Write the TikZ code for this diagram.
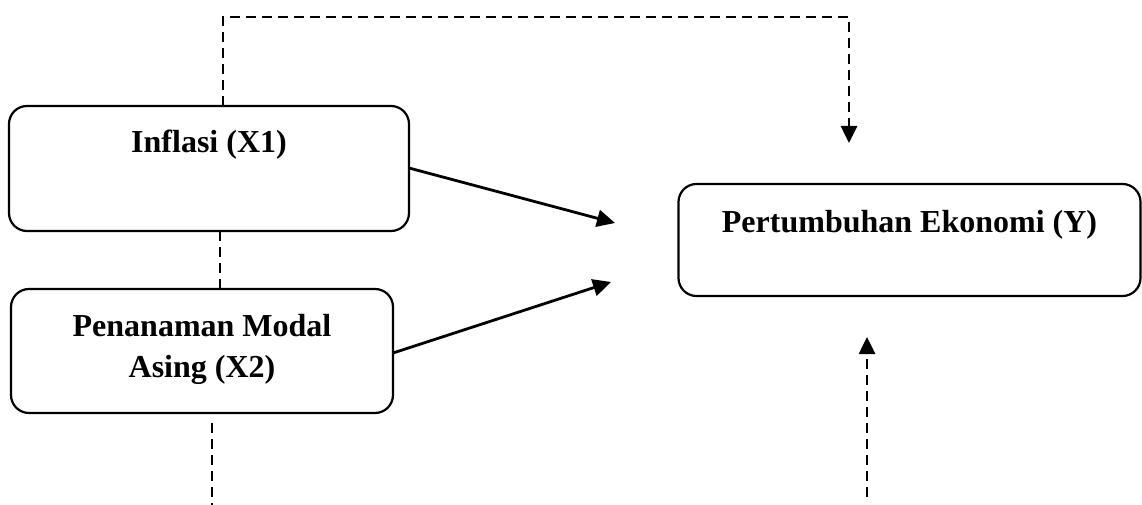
\documentclass[tikz,border=0pt]{standalone}
\usepackage{fontspec}
\setmainfont{Liberation Serif}
\usetikzlibrary{arrows.meta,calc}
\tikzset{
  box/.style={draw, line width=2.2pt, rounded corners=18pt, inner sep=0pt},
  lbl/.style={font=\fontsize{32}{41}\selectfont\bfseries, inner sep=0pt, align=center},
  dsh/.style={line width=2.6pt, dash pattern=on 10pt off 6pt},
  arr/.style={line width=2.8pt, -{Triangle[length=18pt,width=17pt]}},
  darr/.style={dsh, -{Triangle[length=17pt,width=16pt]}}
}
\begin{document}
\begin{tikzpicture}[x=1pt,y=-1pt]
\useasboundingbox (0,0) rectangle (1142,505);
% boxes
\node[box, minimum width=400pt, minimum height=125pt] (b1) at (209,168.5) {};
\node[box, minimum width=382pt, minimum height=124pt] (b2) at (202,351) {};
\node[box, minimum width=462pt, minimum height=112pt] (b3) at (909.5,240) {};
% texts
\node[lbl, anchor=base] (t1) at (209,153) {Inflasi (X1)};
\node[lbl] (t2) at (202,349.5) {Penanaman Modal\\Asing (X2)};
\node[lbl, anchor=base] (t3) at (909.5,232) {Pertumbuhan Ekonomi (Y)};
% coordinates
\coordinate (c1a) at (223,106);
\coordinate (c1b) at (223,17);
\coordinate (c1c) at (849,17);
\coordinate (c1d) at (849,143);
\coordinate (m1) at (220,231);
\coordinate (m2) at (220,289);
\coordinate (d1) at (212,423);
\coordinate (d2) at (212,505);
\coordinate (u1) at (867,497);
\coordinate (u2) at (867,337);
\coordinate (a1s) at (409,168);
\coordinate (a1e) at (615,223);
\coordinate (a2s) at (393,353);
\coordinate (a2e) at (611,282);
% connectors
\draw[darr] (c1a) -- (c1b) -- (c1c) -- (c1d);
\draw[dsh] (m1) -- (m2);
\draw[dsh] (d1) -- (d2);
\draw[darr] (u1) -- (u2);
\draw[arr] (a1s) -- (a1e);
\draw[arr] (a2s) -- (a2e);
\end{tikzpicture}
\end{document}
